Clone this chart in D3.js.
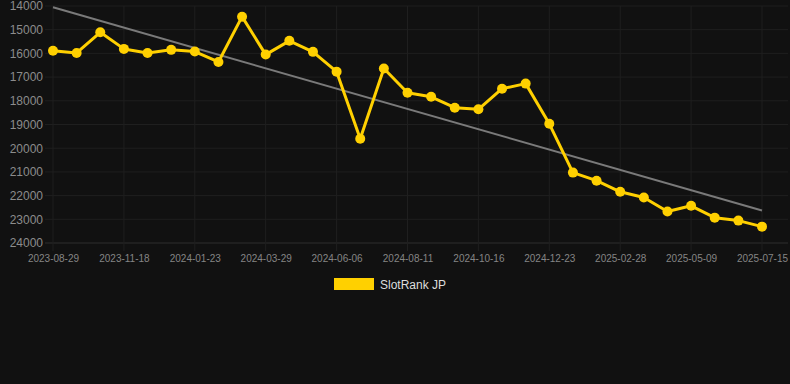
<!DOCTYPE html>
<html lang="en">
<head>
    <meta charset="UTF-8">
    <title>SlotRank JP</title>
    <script src="https://d3js.org/d3.v7.min.js"></script>
    <style>
        html, body { margin: 0; padding: 0; background: #111111; }
        #chart svg { display: block; }
        text { font-family: "Liberation Sans", Arial, sans-serif; }
    </style>
</head>
<body>
    <div id="chart"></div>
    <script>
        // dates on the category axis (every third one is labelled)
        const dates = [
            "2023-08-29", "2023-09-25", "2023-10-22", "2023-11-18", "2023-12-10", "2024-01-01",
            "2024-01-23", "2024-02-14", "2024-03-07", "2024-03-29", "2024-04-24", "2024-05-15",
            "2024-06-06", "2024-06-28", "2024-07-20", "2024-08-11", "2024-09-02", "2024-09-24",
            "2024-10-16", "2024-11-07", "2024-12-01", "2024-12-23", "2025-01-14", "2025-02-06",
            "2025-02-28", "2025-03-23", "2025-04-15", "2025-05-09", "2025-05-31", "2025-06-22",
            "2025-07-15"
        ];
        const rank = [
            15890, 15980, 15110, 15810, 15980, 15850, 15920, 16360, 14450, 16050,
            15470, 15935, 16770, 19600, 16640, 17660, 17830, 18290, 18360, 17490,
            17275, 18970, 21030, 21370, 21840, 22080, 22670, 22430, 22930, 23055,
            23310
        ];
        const trend = [14055, 22630]; // start / end of the trend line
        const yTicks = [14000, 15000, 16000, 17000, 18000, 19000, 20000, 21000, 22000, 23000, 24000];
        const seriesName = "SlotRank JP";

        const w = 790, h = 384;
        const svg = d3.select("#chart").append("svg")
            .attr("width", w)
            .attr("height", h);

        const xScale = d3.scalePoint()
            .domain(dates)
            .range([53, 762]);

        const yScale = d3.scaleLinear()
            .domain([14000, 24000])
            .range([6, 243]);

        const labelled = dates.filter((d, i) => i % 3 === 0);

        // grid
        svg.append("g")
            .selectAll("line")
            .data(yTicks)
            .enter().append("line")
            .attr("x1", 45).attr("x2", 788)
            .attr("y1", d => yScale(d)).attr("y2", d => yScale(d))
            .attr("stroke", d => d === 24000 ? "#2e2e2e" : "#1f1f1f")
            .attr("stroke-width", 1);

        svg.append("g")
            .selectAll("line")
            .data(labelled)
            .enter().append("line")
            .attr("x1", d => xScale(d)).attr("x2", d => xScale(d))
            .attr("y1", 6).attr("y2", 251)
            .attr("stroke", "#1f1f1f")
            .attr("stroke-width", 1);

        // axes
        const yAxis = d3.axisLeft(yScale).tickValues(yTicks).tickSize(0).tickPadding(0).tickFormat(d3.format("d"));
        const gy = svg.append("g").attr("transform", "translate(43,0)").call(yAxis);
        gy.select(".domain").remove();
        gy.selectAll("text").attr("fill", "#8c8c8c").style("font-size", "12px");

        const xAxis = d3.axisBottom(xScale).tickValues(labelled).tickSize(0).tickPadding(10);
        const gx = svg.append("g").attr("transform", "translate(0,245)").call(xAxis);
        gx.select(".domain").remove();
        gx.selectAll("text").attr("fill", "#858585").style("font-size", "10px");

        // trend line
        svg.append("line")
            .attr("x1", xScale(dates[0])).attr("y1", yScale(trend[0]))
            .attr("x2", xScale(dates[dates.length - 1])).attr("y2", yScale(trend[1]))
            .attr("stroke", "#7a7a7a")
            .attr("stroke-width", 2);

        // series
        const line = d3.line()
            .x((d, i) => xScale(dates[i]))
            .y(d => yScale(d));

        svg.append("path")
            .datum(rank)
            .attr("d", line)
            .attr("fill", "none")
            .attr("stroke", "#ffd000")
            .attr("stroke-width", 3)
            .attr("stroke-linejoin", "round");

        svg.selectAll("circle")
            .data(rank)
            .enter().append("circle")
            .attr("cx", (d, i) => xScale(dates[i]))
            .attr("cy", d => yScale(d))
            .attr("r", 5)
            .attr("fill", "#ffd000");

        // legend
        const lg = svg.append("g").attr("transform", "translate(334,278)");
        lg.append("rect").attr("width", 40).attr("height", 12).attr("fill", "#ffd000");
        lg.append("text")
            .attr("x", 46).attr("y", 10.5)
            .attr("fill", "#dddddd")
            .style("font-size", "12px")
            .text(seriesName);
    </script>
</body>
</html>
